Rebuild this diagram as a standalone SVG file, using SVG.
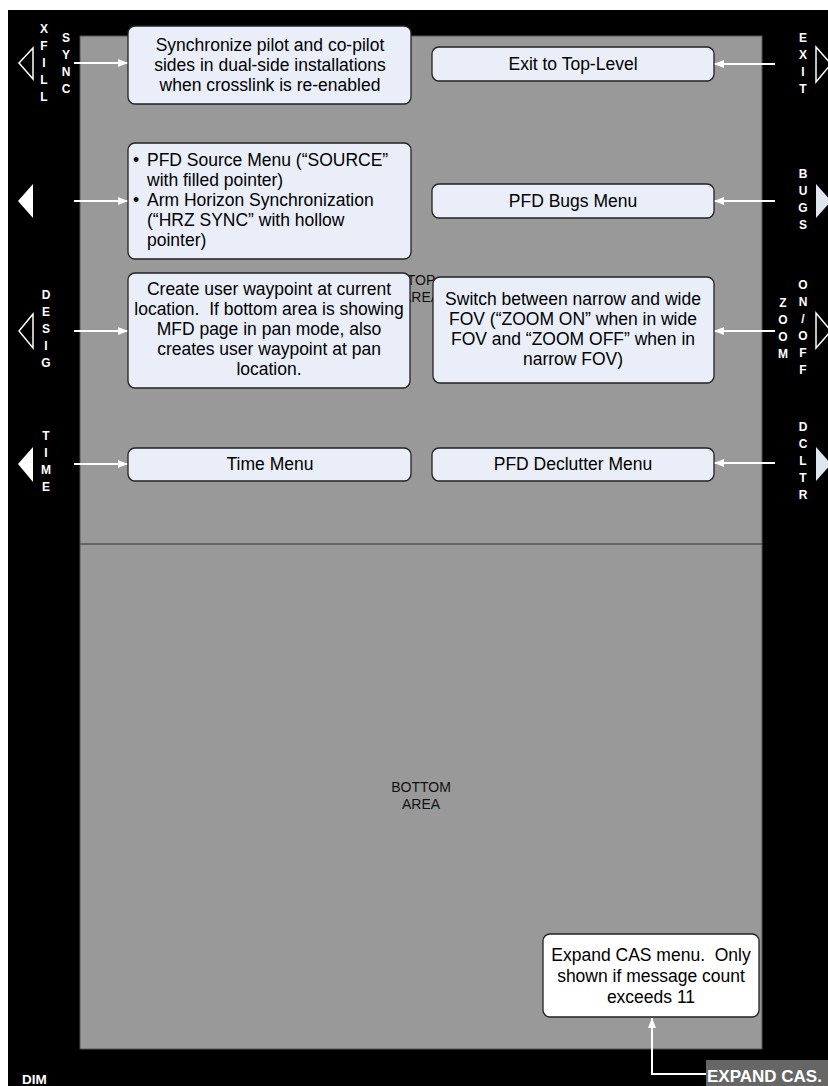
<svg xmlns="http://www.w3.org/2000/svg" width="828" height="1086" viewBox="0 0 828 1086">
<style>
.box{fill:#e9eef8;stroke:#222;stroke-width:1.3}
.t{font-family:"Liberation Sans",Arial,sans-serif;font-size:17.5px;fill:#000;white-space:pre}
.c{text-anchor:middle}
.k{font-family:"Liberation Sans",Arial,sans-serif;font-size:12px;font-weight:bold;fill:#fff;text-anchor:middle}
.area{font-family:"Liberation Sans",Arial,sans-serif;font-size:14px;fill:#111;text-anchor:middle}
.conn{stroke:#fff;stroke-width:2;fill:none}
.hol{fill:none;stroke:#fff;stroke-width:1.5}
</style>
<defs>
<marker id="ah" markerWidth="10" markerHeight="8" refX="10" refY="4" orient="auto" markerUnits="userSpaceOnUse">
<path d="M0,0 L10,4 L0,8 Z" fill="#fff"/>
</marker>
</defs>
<rect x="0" y="0" width="828" height="1086" fill="#fff"/>
<rect x="8" y="10" width="820" height="1076" fill="#000"/>
<rect x="80" y="36" width="682" height="1013" fill="#999" stroke="#555" stroke-width="1"/>
<line x1="80" y1="544" x2="762" y2="544" stroke="#333" stroke-width="1"/>
<g id="area-labels">
<text class="area" x="421" y="285">TOP</text>
<text class="area" x="421" y="302">AREA</text>
<text class="area" x="421" y="792">BOTTOM</text>
<text class="area" x="421" y="809">AREA</text>
</g>
<g id="softkeys">
<polygon class="hol" points="33,48 19,63 33,79"/>
<polygon points="33,184 18,201 33,218" fill="#fff"/>
<polygon class="hol" points="33,314 19,331 33,348"/>
<polygon points="33,447 18,464 33,482" fill="#fff"/>
<polygon class="hol" points="816,47 831,64 816,82"/>
<polygon points="816,184 831,201 816,218" fill="#dfe6f1"/>
<polygon class="hol" points="816,313 831,331 816,348"/>
<polygon points="816,447 831,464 816,481" fill="#dfe6f1"/>
<g id="k-xfill"><text class="k" x="44" y="33">X</text><text class="k" x="44" y="50">F</text><text class="k" x="44" y="67">I</text><text class="k" x="44" y="84">L</text><text class="k" x="44" y="101">L</text></g>
<g id="k-sync"><text class="k" x="66" y="42">S</text><text class="k" x="66" y="59">Y</text><text class="k" x="66" y="76">N</text><text class="k" x="66" y="93">C</text></g>
<g id="k-exit"><text class="k" x="803" y="42">E</text><text class="k" x="803" y="59">X</text><text class="k" x="803" y="76">I</text><text class="k" x="803" y="93">T</text></g>
<g id="k-bugs"><text class="k" x="803" y="178">B</text><text class="k" x="803" y="195">U</text><text class="k" x="803" y="212">G</text><text class="k" x="803" y="229">S</text></g>
<g id="k-desig"><text class="k" x="46" y="299">D</text><text class="k" x="46" y="316">E</text><text class="k" x="46" y="333">S</text><text class="k" x="46" y="350">I</text><text class="k" x="46" y="367">G</text></g>
<g id="k-zoom"><text class="k" x="783" y="307">Z</text><text class="k" x="783" y="324">O</text><text class="k" x="783" y="341">O</text><text class="k" x="783" y="358">M</text></g>
<g id="k-onoff"><text class="k" x="803" y="289">O</text><text class="k" x="803" y="306">N</text><text class="k" x="803" y="323">/</text><text class="k" x="803" y="340">O</text><text class="k" x="803" y="357">F</text><text class="k" x="803" y="374">F</text></g>
<g id="k-time"><text class="k" x="46" y="440">T</text><text class="k" x="46" y="457">I</text><text class="k" x="46" y="474">M</text><text class="k" x="46" y="491">E</text></g>
<g id="k-dcltr"><text class="k" x="803" y="431">D</text><text class="k" x="803" y="448">C</text><text class="k" x="803" y="465">L</text><text class="k" x="803" y="482">T</text><text class="k" x="803" y="499">R</text></g>
<text x="22" y="1084" font-family="'Liberation Sans',Arial,sans-serif" font-size="13.5" font-weight="bold" fill="#fff">DIM</text>
</g>
<g id="connectors">
<line class="conn" x1="74" y1="63" x2="128" y2="63" marker-end="url(#ah)"/>
<line class="conn" x1="74" y1="201" x2="128" y2="201" marker-end="url(#ah)"/>
<line class="conn" x1="74" y1="331" x2="128" y2="331" marker-end="url(#ah)"/>
<line class="conn" x1="74" y1="464" x2="128" y2="464" marker-end="url(#ah)"/>
<line class="conn" x1="775" y1="64" x2="714" y2="64" marker-end="url(#ah)"/>
<line class="conn" x1="775" y1="201" x2="714" y2="201" marker-end="url(#ah)"/>
<line class="conn" x1="775" y1="331" x2="714" y2="331" marker-end="url(#ah)"/>
<line class="conn" x1="775" y1="463" x2="714" y2="463" marker-end="url(#ah)"/>
<polyline class="conn" points="706,1074 652,1074 652,1018" marker-end="url(#ah)"/>
</g>
<g id="n-sync">
<rect class="box" x="128" y="26" width="283" height="78" rx="7"/>
<text class="t c" x="270" y="51">Synchronize pilot and co-pilot</text>
<text class="t c" x="270" y="71">sides in dual-side installations</text>
<text class="t c" x="270" y="91">when crosslink is re-enabled</text>
</g>
<g id="n-exit">
<rect class="box" x="432" y="47" width="282" height="34" rx="7"/>
<text class="t c" x="573" y="70">Exit to Top-Level</text>
</g>
<g id="n-source">
<rect class="box" x="128" y="143" width="283" height="116" rx="7"/>
<text class="t" x="133" y="166">•</text>
<text class="t" x="147" y="166">PFD Source Menu (“SOURCE”</text>
<text class="t" x="147" y="186">with filled pointer)</text>
<text class="t" x="133" y="206">•</text>
<text class="t" x="147" y="206">Arm Horizon Synchronization</text>
<text class="t" x="147" y="226">(“HRZ SYNC” with hollow</text>
<text class="t" x="147" y="246">pointer)</text>
</g>
<g id="n-bugs">
<rect class="box" x="432" y="184" width="282" height="34" rx="7"/>
<text class="t c" x="573" y="207">PFD Bugs Menu</text>
</g>
<g id="n-desig">
<rect class="box" x="128" y="273" width="282" height="115" rx="7"/>
<text class="t c" x="269" y="295">Create user waypoint at current</text>
<text class="t c" x="269" y="315">location.  If bottom area is showing</text>
<text class="t c" x="269" y="335">MFD page in pan mode, also</text>
<text class="t c" x="269" y="355">creates user waypoint at pan</text>
<text class="t c" x="269" y="375">location.</text>
</g>
<g id="n-zoom">
<rect class="box" x="433" y="277" width="281" height="106" rx="7"/>
<text class="t c" x="573" y="305">Switch between narrow and wide</text>
<text class="t c" x="573" y="325">FOV (“ZOOM ON” when in wide</text>
<text class="t c" x="573" y="345">FOV and “ZOOM OFF” when in</text>
<text class="t c" x="573" y="365">narrow FOV)</text>
</g>
<g id="n-time">
<rect class="box" x="128" y="448" width="283" height="33" rx="7"/>
<text class="t c" x="270" y="470">Time Menu</text>
</g>
<g id="n-dcltr">
<rect class="box" x="432" y="448" width="282" height="33" rx="7"/>
<text class="t c" x="573" y="470">PFD Declutter Menu</text>
</g>
<g id="n-cas">
<rect x="543" y="934" width="216" height="83" rx="7" fill="#fff" stroke="#222" stroke-width="1.3"/>
<text class="t c" x="651" y="961">Expand CAS menu.  Only</text>
<text class="t c" x="651" y="982">shown if message count</text>
<text class="t c" x="651" y="1003">exceeds 11</text>
</g>
<g id="n-expand">
<rect x="706" y="1060" width="122" height="26" fill="#666"/>
<text x="707" y="1082" font-family="'Liberation Sans',Arial,sans-serif" font-size="17" font-weight="bold" fill="#fff">EXPAND CAS.</text>
</g>
</svg>
